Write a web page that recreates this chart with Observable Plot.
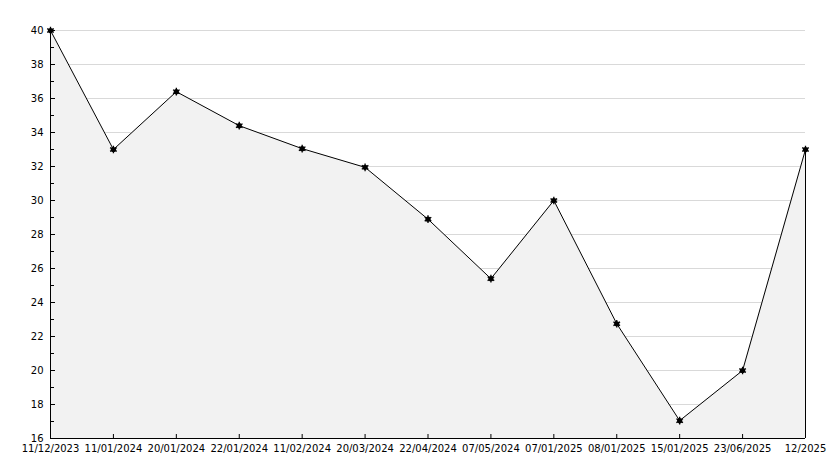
<!DOCTYPE html>
<html>
<head>
<meta charset="utf-8">
<script src="https://cdn.jsdelivr.net/npm/d3@7"></script>
<script src="https://cdn.jsdelivr.net/npm/@observablehq/plot@0.6"></script>
<style>
  html, body { margin: 0; padding: 0; background: #fff; }
  #chart svg { display: block; }
</style>
</head>
<body>
<div id="chart"></div>
<script>
const dates = ["11/12/2023","11/01/2024","20/01/2024","22/01/2024","11/02/2024","20/03/2024","22/04/2024","07/05/2024","07/01/2025","08/01/2025","15/01/2025","23/06/2025","12/2025"];
const values = [40, 33, 36.4, 34.4, 33.05, 31.95, 28.9, 25.4, 30, 22.75, 17.05, 20, 33];
const yMajorTicks = [16,18,20,22,24,26,28,30,32,34,36,38,40];
const yMinorTicks = [17,19,21,23,25,27,29,31,33,35,37,39];
const yMin = 16, yMax = 40;

const data = dates.map((d, i) => ({idx: i, date: d, value: values[i]}));
const last = data[data.length - 1];
const xTicks = data.map(d => d.idx);

const chart = Plot.plot({
  width: 834,
  height: 468,
  marginLeft: 50,
  marginRight: 29,
  marginTop: 30,
  marginBottom: 30,
  style: {fontFamily: "DejaVu Sans", fontSize: "10px", color: "#000", background: "#fff"},
  x: {type: "linear", domain: [0, dates.length - 1], label: null},
  y: {domain: [yMin, yMax], label: null},
  marks: [
    Plot.gridY(yMajorTicks.filter(t => t > yMin), {stroke: "#d9d9d9", strokeOpacity: 1}),
    Plot.areaY(data, {x: "idx", y1: yMin, y2: "value", fill: "#f2f2f2", curve: "linear"}),
    Plot.ruleX([last], {x: "idx", y1: yMin, y2: "value", stroke: "#000"}),
    Plot.line(data, {x: "idx", y: "value", stroke: "#000", strokeWidth: 1}),
    Plot.dot(data, {x: "idx", y: "value", r: 2.6, fill: "#000", stroke: "none"}),
    Plot.dot(data, {x: "idx", y: "value", symbol: "asterisk", r: 3.6, stroke: "#000", strokeWidth: 1.3}),
    Plot.ruleY([yMin], {stroke: "#000"}),
    Plot.ruleX([data[0]], {x: "idx", stroke: "#000"}),
    Plot.axisY({ticks: yMajorTicks, tickSize: -5, tickPadding: 12, fill: "#000"}),
    Plot.axisY({ticks: yMinorTicks, tickSize: -4, tickFormat: () => ""}),
    Plot.axisX({ticks: xTicks, tickFormat: i => dates[i], tickSize: -4, tickPadding: 10, fill: "#000"})
  ]
});
document.getElementById("chart").appendChild(chart);
</script>
</body>
</html>
